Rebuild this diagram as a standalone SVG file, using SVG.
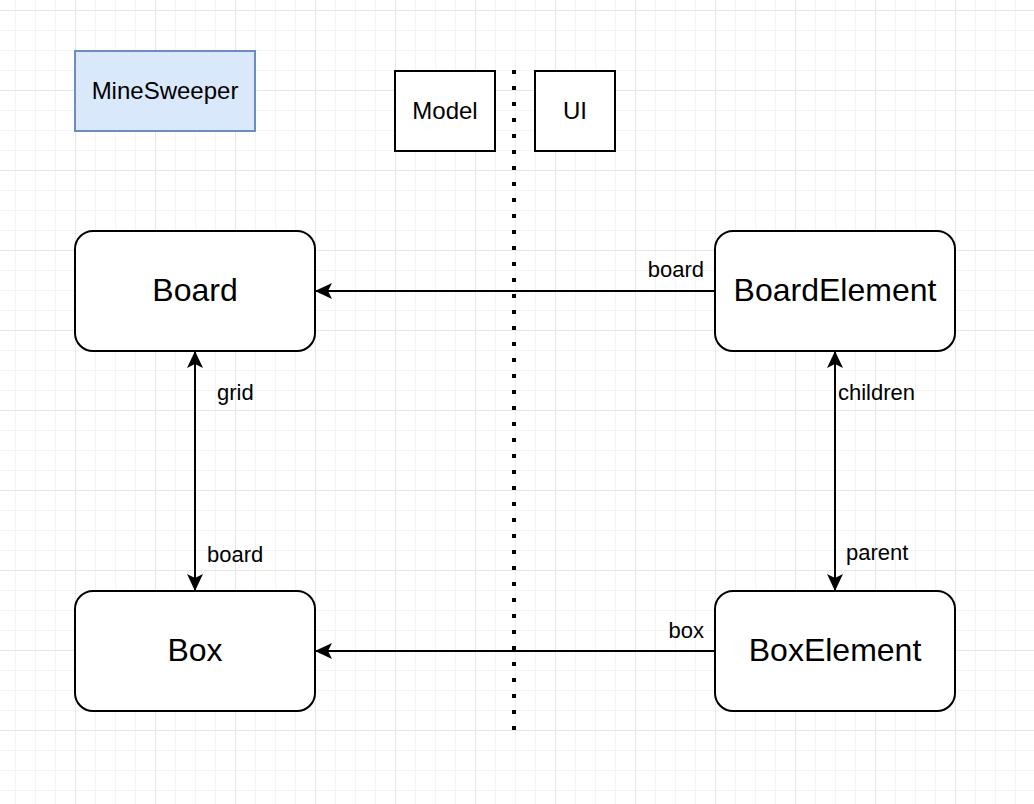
<svg xmlns="http://www.w3.org/2000/svg" width="1034" height="804" viewBox="0 0 1034 804">
  <defs>
    <pattern id="grid" patternUnits="userSpaceOnUse" x="-5" y="10" width="80" height="80">
      <rect x="20" y="0" width="1" height="80" fill="#f4f4f4"/>
      <rect x="40" y="0" width="1" height="80" fill="#f4f4f4"/>
      <rect x="60" y="0" width="1" height="80" fill="#f4f4f4"/>
      <rect x="0" y="20" width="80" height="1" fill="#f4f4f4"/>
      <rect x="0" y="40" width="80" height="1" fill="#f4f4f4"/>
      <rect x="0" y="60" width="80" height="1" fill="#f4f4f4"/>
      <rect x="0" y="0" width="1" height="80" fill="#e6e6e6"/>
      <rect x="0" y="0" width="80" height="1" fill="#e6e6e6"/>
    </pattern>
    <marker id="arrow" markerUnits="userSpaceOnUse" markerWidth="20" markerHeight="20" viewBox="-18 -10 20 20" refX="0" refY="0" orient="auto-start-reverse">
      <path d="M0,0 L-17,-8 L-13,0 L-17,8 Z" fill="#000"/>
    </marker>
  </defs>
  <style>
    .node { fill: #ffffff; stroke: #000000; stroke-width: 2; }
    .title { fill: #dae8fc; stroke: #6c8ebf; stroke-width: 2; }
    .big { font-family: "Liberation Sans", Arial, Helvetica, sans-serif; font-size: 32px; fill: #000; text-anchor: middle; }
    .mid { font-family: "Liberation Sans", Arial, Helvetica, sans-serif; font-size: 24px; fill: #000; text-anchor: middle; }
    .lbl { font-family: "Liberation Sans", Arial, Helvetica, sans-serif; font-size: 22px; fill: #000; }
    .edge { stroke: #000; stroke-width: 2; fill: none; }
  </style>
  <rect x="0" y="0" width="1034" height="804" fill="#ffffff"/>
  <rect x="0" y="0" width="1034" height="804" fill="url(#grid)"/>

  <g id="divider">
    <line x1="514" y1="70" x2="514" y2="730" stroke="#000" stroke-width="4" stroke-dasharray="4 12"/>
  </g>

  <g id="minesweeper">
    <rect class="title" x="75" y="51" width="180" height="80"/>
    <text class="mid" x="165" y="99">MineSweeper</text>
  </g>
  <g id="model">
    <rect class="node" x="395" y="71" width="100" height="80"/>
    <text class="mid" x="445" y="119">Model</text>
  </g>
  <g id="ui">
    <rect class="node" x="535" y="71" width="80" height="80"/>
    <text class="mid" x="575" y="119">UI</text>
  </g>

  <g id="board">
    <rect class="node" x="75" y="231" width="240" height="120" rx="18" ry="18"/>
    <text class="big" x="195" y="301">Board</text>
  </g>
  <g id="boardelement">
    <rect class="node" x="715" y="231" width="240" height="120" rx="18" ry="18"/>
    <text class="big" x="835" y="301">BoardElement</text>
  </g>
  <g id="box">
    <rect class="node" x="75" y="591" width="240" height="120" rx="18" ry="18"/>
    <text class="big" x="195" y="661">Box</text>
  </g>
  <g id="boxelement">
    <rect class="node" x="715" y="591" width="240" height="120" rx="18" ry="18"/>
    <text class="big" x="835" y="661">BoxElement</text>
  </g>

  <g id="connectors">
    <line class="edge" x1="715" y1="291" x2="315" y2="291" marker-end="url(#arrow)"/>
    <text class="lbl" x="704" y="277" text-anchor="end">board</text>

    <line class="edge" x1="195" y1="351" x2="195" y2="591" marker-start="url(#arrow)" marker-end="url(#arrow)"/>
    <text class="lbl" x="217" y="400">grid</text>
    <text class="lbl" x="207" y="562">board</text>

    <line class="edge" x1="835" y1="351" x2="835" y2="591" marker-start="url(#arrow)" marker-end="url(#arrow)"/>
    <text class="lbl" x="838" y="400">children</text>
    <text class="lbl" x="846" y="560">parent</text>

    <line class="edge" x1="715" y1="651" x2="315" y2="651" marker-end="url(#arrow)"/>
    <text class="lbl" x="704" y="638" text-anchor="end">box</text>
  </g>
</svg>
